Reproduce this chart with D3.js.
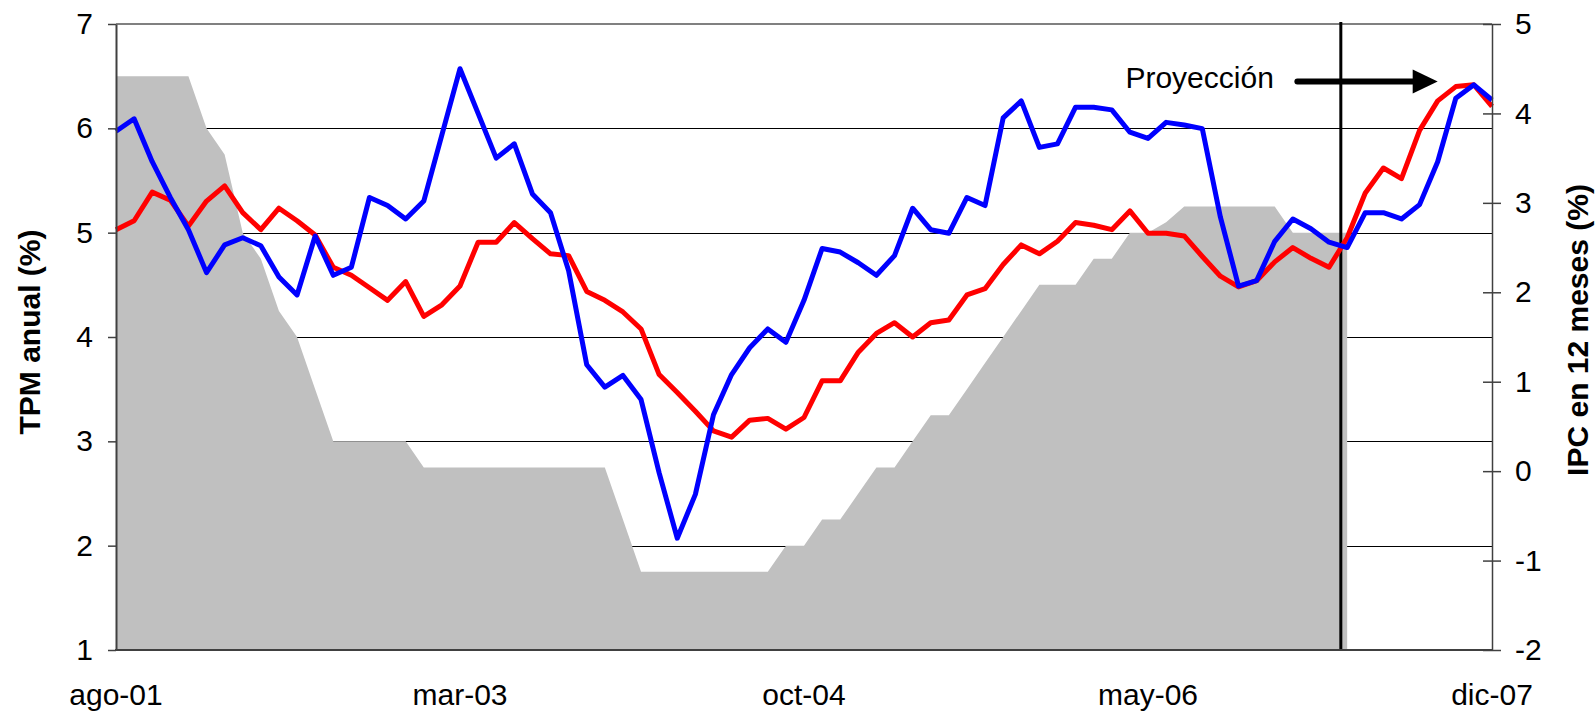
<!DOCTYPE html>
<html><head><meta charset="utf-8">
<script src="https://cdn.jsdelivr.net/npm/d3@7"></script>
<style>
body{margin:0;background:#fff}
svg{display:block}
text{font-family:"Liberation Sans",Arial,sans-serif;fill:#000}
</style></head>
<body><svg id="c" width="1596" height="712"></svg>
<script>
const months=["ago-01","sep-01","oct-01","nov-01","dic-01",
"ene-02","feb-02","mar-02","abr-02","may-02","jun-02","jul-02","ago-02","sep-02","oct-02","nov-02","dic-02",
"ene-03","feb-03","mar-03","abr-03","may-03","jun-03","jul-03","ago-03","sep-03","oct-03","nov-03","dic-03",
"ene-04","feb-04","mar-04","abr-04","may-04","jun-04","jul-04","ago-04","sep-04","oct-04","nov-04","dic-04",
"ene-05","feb-05","mar-05","abr-05","may-05","jun-05","jul-05","ago-05","sep-05","oct-05","nov-05","dic-05",
"ene-06","feb-06","mar-06","abr-06","may-06","jun-06","jul-06","ago-06","sep-06","oct-06","nov-06","dic-06",
"ene-07","feb-07","mar-07","abr-07","may-07","jun-07","jul-07","ago-07","sep-07","oct-07","nov-07","dic-07"];

// TPM (left axis, %), available up to abr-07
const tpm=[6.5,6.5,6.5,6.5,6.5, 6.0,5.75,5.0,4.75,4.25, 4.0,3.5,3.0,3.0,3.0,
3.0,3.0,2.75,2.75,2.75, 2.75,2.75,2.75,2.75,2.75, 2.75,2.75,2.75,2.25,1.75,
1.75,1.75,1.75,1.75,1.75, 1.75,1.75,2.0,2.0,2.25, 2.25,2.5,2.75,2.75,3.0,
3.25,3.25,3.5,3.75,4.0, 4.25,4.5,4.5,4.5,4.75, 4.75,5.0,5.0,5.1,5.25,
5.25,5.25,5.25,5.25,5.25, 5.0,5.0,5.0,5.0];

// IPC en 12 meses (right axis, %) - blue
const ipc=[3.80,3.94,3.46,3.06,2.70, 2.22,2.53,2.61,2.52,2.17, 1.97,2.63,2.19,2.28,3.06,
2.97,2.82,3.02,3.76,4.50, 4.00,3.50,3.66,3.10,2.89, 2.24,1.19,0.94,1.07,0.80,
-0.02,-0.75,-0.26,0.63,1.08, 1.38,1.59,1.44,1.91,2.49, 2.45,2.33,2.19,2.41,2.94,
2.70,2.66,3.06,2.97,3.95, 4.14,3.62,3.66,4.07,4.07, 4.04,3.79,3.72,3.90,3.87,
3.83,2.84,2.07,2.13,2.57, 2.82,2.71,2.56,2.50,2.89, 2.89,2.82,2.98,3.46,4.17,
4.32,4.15];

// second inflation measure (right axis, %) - red
const ipcx=[2.70,2.80,3.12,3.03,2.74, 3.02,3.19,2.89,2.70,2.94, 2.80,2.64,2.28,2.19,2.05,
1.91,2.12,1.73,1.86,2.07, 2.56,2.56,2.78,2.60,2.43, 2.41,2.01,1.91,1.78,1.59,
1.08,0.88,0.67,0.45,0.38, 0.57,0.59,0.47,0.60,1.01, 1.01,1.33,1.54,1.66,1.50,
1.66,1.69,1.97,2.04,2.31, 2.53,2.43,2.57,2.78,2.75, 2.70,2.91,2.66,2.66,2.63,
2.40,2.18,2.06,2.13,2.34, 2.50,2.38,2.28,2.61,3.11, 3.39,3.27,3.81,4.14,4.30,
4.32,4.08];

const leftTicks=[1,2,3,4,5,6,7];
const rightTicks=[-2,-1,0,1,2,3,4,5];
const xTickLabels=["ago-01","mar-03","oct-04","may-06","dic-07"];
const leftTitle="TPM anual (%)";
const rightTitle="IPC en 12 meses (%)";
const annotationText="Proyección";
// annotation anchors in data units (month index / left-axis value)
const projectionIndex=67.65;
const arrowFrom=65.25, arrowTo=73.0, arrowLevel=6.45;
const labelEndIndex=63.95, labelLevel=6.387;

const svg=d3.select("#c");
const x=d3.scaleLinear().domain([0,months.length-1]).range([116,1492]);
const yL=d3.scaleLinear().domain([1,7]).range([650,24]);
const yR=d3.scaleLinear().domain([-2,5]).range([650,24]);
const X0=x.range()[0], X1=x.range()[1];
const fmt=d=>String(d);

// gridlines (behind area)
svg.append("g").selectAll("line").data(leftTicks.filter(v=>v>1&&v<7)).join("line")
  .attr("x1",X0).attr("x2",X1)
  .attr("y1",d=>Math.round(yL(d))+0.5).attr("y2",d=>Math.round(yL(d))+0.5)
  .attr("stroke","#000").attr("stroke-width",1);
// top border
svg.append("line").attr("x1",X0).attr("x2",X1).attr("y1",yL(7)).attr("y2",yL(7))
  .attr("stroke","#808080").attr("stroke-width",2);

// TPM area
svg.append("path").datum(tpm)
  .attr("d",d3.area().x((d,i)=>x(i)).y0(yL(1)).y1(d=>yL(d)))
  .attr("fill","#c0c0c0");

// projection marker
svg.append("line").attr("x1",x(projectionIndex)).attr("x2",x(projectionIndex))
  .attr("y1",yL(7)-2).attr("y2",yL(1)).attr("stroke","#000").attr("stroke-width",3);

const line=d3.line().x((d,i)=>x(i)).y(d=>yR(d));
svg.append("path").datum(ipcx).attr("d",line).attr("fill","none")
  .attr("stroke","#ff0000").attr("stroke-width",5).attr("stroke-linejoin","round");
svg.append("path").datum(ipc).attr("d",line).attr("fill","none")
  .attr("stroke","#0000ff").attr("stroke-width",5).attr("stroke-linejoin","round");

// left axis
const gl=svg.append("g").attr("transform",`translate(${X0},0)`)
  .call(d3.axisLeft(yL).tickValues(leftTicks).tickFormat(fmt).tickSize(8).tickSizeOuter(0).tickPadding(15));
gl.select(".domain").attr("stroke","#404040").attr("stroke-width",2);
gl.selectAll(".tick line").attr("stroke","#404040").attr("stroke-width",1.5);
gl.selectAll("text").attr("font-size",30).attr("font-family","Liberation Sans, Arial, sans-serif");

// right axis
const gr=svg.append("g").attr("transform",`translate(${X1},0)`)
  .call(d3.axisRight(yR).tickValues(rightTicks).tickFormat(fmt).tickSize(9).tickSizeOuter(0).tickPadding(14));
gr.select(".domain").attr("stroke","#404040").attr("stroke-width",1.5);
gr.selectAll(".tick line").attr("x1",-9).attr("stroke","#404040").attr("stroke-width",1.5);
gr.selectAll("text").attr("font-size",30).attr("font-family","Liberation Sans, Arial, sans-serif");

// bottom axis line
svg.append("line").attr("x1",X0-1).attr("x2",X1).attr("y1",yL(1)).attr("y2",yL(1))
  .attr("stroke","#404040").attr("stroke-width",2);

// x labels
svg.append("g").selectAll("text").data(xTickLabels).join("text")
  .attr("x",d=>x(months.indexOf(d))).attr("y",705)
  .attr("text-anchor","middle").attr("font-size",30).text(d=>d);

// axis titles
svg.append("text").attr("transform",`translate(40,${(yL(1)+yL(7))/2-5}) rotate(-90)`)
  .attr("text-anchor","middle").attr("font-size",30).attr("font-weight","bold").text(leftTitle);
svg.append("text").attr("transform",`translate(1588,${(yR(-2)+yR(5))/2-7}) rotate(-90)`)
  .attr("text-anchor","middle").attr("font-size",30).attr("font-weight","bold").text(rightTitle);

// projection annotation
const ay=yL(arrowLevel), ax0=x(arrowFrom), ax1=x(arrowTo);
svg.append("line").attr("x1",ax0).attr("x2",ax1-20).attr("y1",ay).attr("y2",ay)
  .attr("stroke","#000").attr("stroke-width",6).attr("stroke-linecap","round");
svg.append("path").attr("d",`M${ax1-25},${ay-12}L${ax1},${ay}L${ax1-25},${ay+12}Z`).attr("fill","#000");
svg.append("text").attr("x",x(labelEndIndex)).attr("y",yL(labelLevel))
  .attr("text-anchor","end").attr("font-size",30).text(annotationText);
</script></body></html>
